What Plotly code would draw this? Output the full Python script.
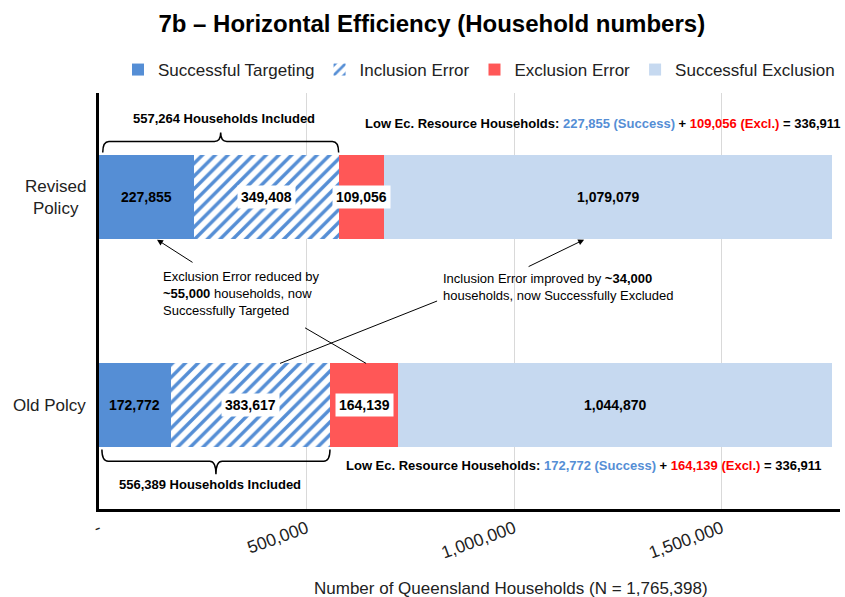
import plotly.graph_objects as go

# ---------------- data ----------------
categories = ["Old Polcy", "Revised<br>Policy"]
y_pos = [0, 1]
successful_targeting = [172772, 227855]
inclusion_error = [383617, 349408]
exclusion_error = [164139, 109056]
successful_exclusion = [1044870, 1079079]
series_names = ["Successful Targeting", "Inclusion Error", "Exclusion Error", "Successful Exclusion"]
included_labels = ["556,389 Households Included", "557,264 Households Included"]
tick_vals = [0, 500000, 1000000, 1500000]
tick_text = ["-", "500,000", "1,000,000", "1,500,000"]
total_households = 1765398

BLUE = "#558ED5"
RED = "#FF5757"
LIGHT = "#C6D9F0"
FONT = "Liberation Sans, Arial, sans-serif"

fig = go.Figure()
fig.add_trace(go.Bar(y=y_pos, x=successful_targeting, orientation="h", name=series_names[0],
                     marker=dict(color=BLUE, line=dict(width=0)), width=0.4))
fig.add_trace(go.Bar(y=y_pos, x=inclusion_error, orientation="h", name=series_names[1],
                     marker=dict(color="white", line=dict(width=0),
                                 pattern=dict(shape="/", fgcolor=BLUE, bgcolor="white",
                                              size=9, solidity=0.38, fillmode="replace")),
                     width=0.4))
fig.add_trace(go.Bar(y=y_pos, x=exclusion_error, orientation="h", name=series_names[2],
                     marker=dict(color=RED, line=dict(width=0)), width=0.4))
fig.add_trace(go.Bar(y=y_pos, x=successful_exclusion, orientation="h", name=series_names[3],
                     marker=dict(color=LIGHT, line=dict(width=0)), width=0.4))

annotations = []
# value labels in segment centres
for i, yv in enumerate(y_pos):
    segs = [successful_targeting[i], inclusion_error[i], exclusion_error[i], successful_exclusion[i]]
    start = 0
    for j, v in enumerate(segs):
        boxed = j in (1, 2)
        annotations.append(dict(x=start + v / 2, y=yv, xref="x", yref="y", text=f"<b>{v:,}</b>",
                                showarrow=False, font=dict(size=14, color="black", family=FONT),
                                bgcolor="white" if boxed else None, borderpad=3))
        start += v

# category labels
for i, yv in enumerate(y_pos):
    annotations.append(dict(x=-0.0148, y=yv, xref="paper", yref="y", text=categories[i],
                            showarrow=False, align="center", xanchor="right",
                            font=dict(size=17, color="#222", family=FONT)))

# bracket labels
incl_sum = [successful_targeting[i] + inclusion_error[i] for i in range(2)]
annotations.append(dict(x=300000, y=1.376, xref="x", yref="y", text=f"<b>{included_labels[1]}</b>",
                        showarrow=False, font=dict(size=13, color="black", family=FONT)))
annotations.append(dict(x=267000, y=-0.381, xref="x", yref="y", text=f"<b>{included_labels[0]}</b>",
                        showarrow=False, font=dict(size=13, color="black", family=FONT)))

# low economic resource households text
def low_ec(i):
    st, ee = successful_targeting[i], exclusion_error[i]
    return (f"<b>Low Ec. Resource Households: <span style='color:{BLUE}'>{st:,} (Success)</span> + "
            f"<span style='color:#FF0000'>{ee:,} (Excl.)</span> = {st + ee:,}</b>")

annotations.append(dict(x=636000, y=1.352, xref="x", yref="y", text=low_ec(1), xanchor="left",
                        showarrow=False, font=dict(size=13, color="black", family=FONT)))
annotations.append(dict(x=590000, y=-0.290, xref="x", yref="y", text=low_ec(0), xanchor="left",
                        showarrow=False, font=dict(size=13, color="black", family=FONT)))

# explanatory notes
annotations.append(dict(x=149000, y=0.538, xref="x", yref="y", xanchor="left", align="left",
                        text="Exclusion Error reduced by<br><b>~55,000</b> households, now<br>Successfully Targeted",
                        showarrow=False, font=dict(size=13, color="black", family=FONT)))
annotations.append(dict(x=824000, y=0.566, xref="x", yref="y", xanchor="left", align="left",
                        text="Inclusion Error improved by <b>~34,000</b><br>households, now Successfully Excluded",
                        showarrow=False, font=dict(size=13, color="black", family=FONT)))

# arrows
annotations.append(dict(x=139800, y=0.795, ax=228900, ay=0.681, xref="x", yref="y", axref="x", ayref="y",
                        text="", showarrow=True, arrowhead=2, arrowsize=1.2, arrowwidth=1, arrowcolor="black"))
annotations.append(dict(x=1168600, y=0.795, ax=1031300, ay=0.662, xref="x", yref="y", axref="x", ayref="y",
                        text="", showarrow=True, arrowhead=2, arrowsize=1.2, arrowwidth=1, arrowcolor="black"))

# x-axis title
annotations.append(dict(x=0.556, y=-0.192, xref="paper", yref="paper", showarrow=False, yanchor="middle",
                        text=f"Number of Queensland Households (N = {total_households:,})",
                        font=dict(size=17, color="#222", family=FONT)))

shapes = []
# connecting lines
shapes.append(dict(type="line", xref="x", yref="y", x0=814400, y0=0.5, x1=436100, y1=0.2,
                   line=dict(color="black", width=1)))
shapes.append(dict(type="line", xref="x", yref="y", x0=496400, y0=0.371, x1=643400, y1=0.2,
                   line=dict(color="black", width=1)))

# curly brackets
def brace(x0, x1, yb, yf, yt, dx):
    xm = (x0 + x1) / 2
    return (f"M {x0},{yb} Q {x0},{yf} {x0 + dx},{yf} L {xm - dx},{yf} Q {xm},{yf} {xm},{yt} "
            f"Q {xm},{yf} {xm + dx},{yf} L {x1 - dx},{yf} Q {x1},{yf} {x1},{yb}")

shapes.append(dict(type="path", xref="x", yref="y", path=brace(9000, incl_sum[1], 1.214, 1.267, 1.31, 15000),
                   line=dict(color="black", width=1.5)))
shapes.append(dict(type="path", xref="x", yref="y", path=brace(7000, incl_sum[0], -0.214, -0.27, -0.333, 15000),
                   line=dict(color="black", width=1.5)))

fig.update_layout(
    barmode="stack",
    width=845, height=597,
    margin=dict(l=99, r=5, t=88, b=88),
    paper_bgcolor="white", plot_bgcolor="white",
    font=dict(family=FONT, color="black"),
    title=dict(text="<b>7b – Horizontal Efficiency (Household numbers)</b>", x=0.511, xref="container",
               y=1 - 24 / 597, yref="container", yanchor="middle", xanchor="center",
               font=dict(size=24, color="black", family=FONT)),
    legend=dict(orientation="h", xref="container", yref="container", x=118 / 845, y=1 - 70 / 597,
                xanchor="left", yanchor="middle", font=dict(size=17, color="#222", family=FONT),
                traceorder="normal"),
    xaxis=dict(range=[0, 1785000], tickvals=tick_vals, ticktext=tick_text, tickangle=-20,
               showgrid=True, gridcolor="#D9D9D9", gridwidth=1, zeroline=False,
               showline=True, linecolor="black", linewidth=2.5, ticks="",
               tickfont=dict(size=17.5, color="#222", family=FONT), ticklabelstandoff=0),
    yaxis=dict(range=[-0.5, 1.5], showticklabels=False, showgrid=False, zeroline=False,
               showline=True, linecolor="black", linewidth=2.5, ticks=""),
    annotations=annotations,
    shapes=shapes,
    showlegend=True,
)

fig.write_html("out.html", config={"displayModeBar": False},
               post_script="document.body.style.margin='0px';")
